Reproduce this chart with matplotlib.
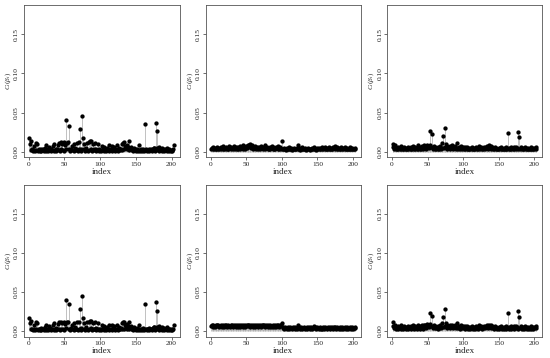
import matplotlib
matplotlib.use("Agg")
import matplotlib.pyplot as plt
import numpy as np

plt.rcParams['font.family'] = ['Liberation Serif', 'DejaVu Serif']
plt.rcParams['mathtext.fontset'] = 'custom'
plt.rcParams['mathtext.rm'] = 'Liberation Serif'
plt.rcParams['mathtext.it'] = 'Liberation Serif:italic'

# Cook's-type distances, index 1..203, one list per panel
c1 = [
 .017, .010, .002, .013, .003, .001, .007, .002, .001, .011,
 .002, .010, .001, .003, .002, .001, .004, .001, .002, .003,
 .001, .002, .005, .001, .008, .003, .001, .006, .002, .004,
 .001, .003, .002, .007, .001, .010, .002, .001, .004, .003,
 .009, .002, .011, .001, .012, .003, .010, .002, .012, .001,
 .009, .004, .040, .011, .012, .033, .003, .001, .004, .002,
 .007, .002, .010, .001, .005, .003, .002, .011, .001, .003,
 .012, .029, .004, .001, .046, .017, .010, .003, .001, .005,
 .002, .011, .001, .012, .002, .013, .004, .013, .001, .010,
 .003, .002, .011, .001, .004, .002, .010, .001, .003, .002,
 .001, .007, .002, .004, .001, .006, .002, .001, .005, .003,
 .002, .008, .001, .003, .002, .007, .001, .004, .002, .006,
 .001, .003, .008, .002, .001, .005, .003, .002, .004, .010,
 .002, .011, .003, .012, .007, .005, .009, .003, .006, .002,
 .013, .004, .006, .002, .003, .001, .005, .002, .003, .001,
 .002, .004, .001, .008, .002, .001, .003, .002, .001, .004,
 .002, .001, .035, .003, .002, .001, .002, .004, .001, .002,
 .003, .001, .002, .004, .005, .005, .001, .037, .026, .005,
 .002, .006, .001, .003, .002, .001, .005, .002, .001, .004,
 .002, .003, .001, .005, .002, .001, .003, .002, .001, .002,
 .001, .003, .008]

c2 = [
 .004,.005,.003,.006,.004,.005,.003,.004,.006,.005,
 .004,.003,.005,.006,.004,.005,.007,.004,.003,.005,
 .006,.004,.005,.003,.004,.007,.005,.004,.006,.005,
 .003,.005,.007,.004,.006,.005,.004,.003,.006,.005,
 .004,.007,.005,.006,.004,.008,.005,.006,.004,.007,
 .005,.009,.006,.008,.010,.007,.005,.008,.006,.004,
 .006,.005,.007,.004,.006,.005,.003,.006,.005,.004,
 .007,.005,.004,.006,.005,.008,.004,.005,.006,.004,
 .005,.003,.006,.004,.005,.007,.004,.006,.003,.005,
 .004,.006,.005,.003,.007,.004,.005,.006,.004,.013,
 .003,.004,.005,.003,.004,.002,.005,.004,.003,.006,
 .004,.003,.005,.002,.004,.003,.005,.004,.003,.004,
 .005,.008,.003,.004,.002,.005,.003,.004,.006,.003,
 .004,.003,.005,.002,.004,.003,.005,.004,.002,.003,
 .004,.005,.003,.004,.006,.003,.004,.002,.005,.004,
 .003,.005,.004,.003,.005,.006,.004,.003,.005,.004,
 .006,.004,.003,.005,.004,.006,.003,.004,.005,.003,
 .004,.006,.005,.007,.004,.005,.003,.006,.004,.005,
 .003,.004,.006,.005,.004,.003,.005,.004,.006,.003,
 .004,.005,.003,.004,.006,.004,.003,.005,.004,.003,
 .004,.005,.003]

c3 = [
 .010,.006,.004,.008,.003,.005,.004,.006,.003,.005,
 .004,.007,.003,.005,.004,.003,.006,.004,.005,.003,
 .004,.006,.003,.005,.004,.003,.006,.004,.005,.007,
 .003,.004,.006,.005,.003,.008,.004,.005,.003,.006,
 .004,.007,.005,.003,.008,.005,.007,.004,.009,.006,
 .007,.005,.026,.009,.006,.022,.004,.005,.007,.004,
 .006,.004,.005,.003,.006,.004,.005,.007,.004,.005,
 .011,.020,.005,.006,.030,.010,.007,.004,.006,.005,
 .007,.004,.006,.005,.008,.004,.006,.005,.007,.004,
 .005,.011,.004,.006,.005,.003,.007,.004,.005,.006,
 .004,.006,.003,.005,.004,.006,.003,.005,.004,.003,
 .005,.004,.006,.003,.004,.005,.003,.006,.004,.005,
 .003,.005,.007,.004,.006,.003,.005,.004,.006,.005,
 .004,.006,.005,.007,.004,.008,.005,.006,.004,.007,
 .006,.004,.005,.003,.006,.004,.005,.003,.004,.005,
 .003,.005,.004,.006,.003,.004,.005,.003,.004,.006,
 .003,.004,.024,.005,.003,.004,.006,.003,.005,.004,
 .006,.003,.005,.004,.006,.005,.003,.025,.019,.004,
 .005,.006,.003,.004,.005,.003,.006,.004,.005,.003,
 .004,.005,.003,.004,.006,.003,.004,.005,.003,.004,
 .005,.004,.006]

c4 = [
 .016, .010, .002, .013, .003, .001, .008, .002, .001, .011,
 .002, .010, .001, .003, .002, .001, .004, .001, .002, .003,
 .001, .002, .005, .001, .008, .003, .001, .006, .002, .004,
 .001, .003, .002, .007, .001, .010, .002, .001, .004, .003,
 .009, .002, .011, .001, .012, .003, .010, .002, .012, .001,
 .009, .004, .039, .011, .012, .034, .003, .001, .004, .002,
 .007, .002, .010, .001, .005, .003, .002, .011, .001, .003,
 .012, .028, .004, .001, .045, .017, .010, .003, .001, .005,
 .002, .011, .001, .012, .002, .013, .004, .013, .001, .010,
 .003, .002, .011, .001, .004, .002, .010, .001, .003, .002,
 .001, .007, .002, .004, .001, .006, .002, .001, .005, .003,
 .002, .008, .001, .003, .002, .007, .001, .004, .002, .006,
 .001, .003, .008, .002, .001, .005, .003, .002, .004, .010,
 .002, .011, .003, .012, .007, .005, .009, .003, .006, .002,
 .012, .004, .006, .002, .003, .001, .005, .002, .003, .001,
 .002, .004, .001, .008, .002, .001, .003, .002, .001, .004,
 .002, .001, .035, .003, .002, .001, .002, .004, .001, .002,
 .003, .001, .002, .004, .005, .005, .001, .037, .026, .005,
 .002, .006, .001, .003, .002, .001, .005, .002, .001, .004,
 .002, .003, .001, .005, .002, .001, .003, .002, .001, .002,
 .001, .003, .008]

c5 = [
 .006,.007,.005,.007,.006,.005,.007,.006,.008,.006,
 .007,.005,.006,.007,.006,.005,.007,.006,.005,.007,
 .006,.007,.005,.006,.007,.006,.005,.008,.006,.007,
 .005,.006,.007,.006,.005,.007,.006,.005,.007,.006,
 .007,.005,.006,.007,.006,.005,.007,.006,.005,.007,
 .006,.007,.008,.006,.007,.005,.006,.007,.006,.005,
 .007,.006,.005,.007,.006,.007,.005,.006,.007,.006,
 .005,.007,.006,.007,.008,.006,.005,.007,.006,.005,
 .007,.006,.005,.007,.006,.005,.007,.006,.005,.007,
 .006,.005,.007,.006,.007,.005,.006,.007,.008,.010,
 .004,.005,.003,.004,.005,.004,.003,.005,.004,.003,
 .004,.005,.004,.003,.004,.005,.004,.003,.005,.004,
 .003,.007,.004,.005,.003,.004,.005,.004,.003,.004,
 .005,.004,.003,.004,.005,.003,.004,.005,.004,.003,
 .005,.004,.003,.004,.006,.004,.005,.003,.004,.005,
 .004,.003,.005,.004,.003,.002,.004,.005,.003,.004,
 .005,.004,.003,.004,.005,.004,.003,.005,.004,.005,
 .004,.003,.005,.004,.005,.003,.004,.005,.004,.003,
 .005,.004,.003,.004,.005,.003,.004,.005,.004,.003,
 .004,.005,.003,.004,.005,.004,.003,.005,.004,.003,
 .004,.005,.004]

c6 = [
 .011,.006,.004,.008,.003,.005,.004,.006,.003,.005,
 .004,.007,.003,.005,.004,.003,.006,.004,.005,.003,
 .004,.006,.003,.005,.004,.003,.006,.004,.005,.007,
 .003,.004,.006,.005,.003,.008,.004,.005,.003,.006,
 .004,.007,.005,.003,.008,.005,.007,.004,.009,.006,
 .007,.005,.023,.009,.006,.019,.004,.005,.007,.004,
 .006,.004,.005,.003,.006,.004,.005,.007,.004,.005,
 .010,.018,.005,.006,.028,.010,.007,.004,.006,.005,
 .007,.004,.006,.005,.008,.004,.006,.005,.007,.004,
 .005,.010,.004,.006,.005,.003,.007,.004,.005,.006,
 .004,.006,.003,.005,.004,.006,.003,.005,.004,.003,
 .005,.004,.006,.003,.004,.005,.003,.006,.004,.005,
 .003,.005,.007,.004,.006,.003,.005,.004,.006,.005,
 .004,.006,.005,.007,.004,.008,.005,.006,.004,.007,
 .006,.004,.005,.003,.006,.004,.005,.003,.004,.005,
 .003,.005,.004,.006,.003,.004,.005,.003,.004,.006,
 .003,.004,.023,.005,.003,.004,.006,.003,.005,.004,
 .006,.003,.005,.004,.006,.005,.003,.025,.018,.004,
 .005,.006,.003,.004,.005,.003,.006,.004,.005,.003,
 .004,.005,.003,.004,.006,.003,.004,.005,.003,.004,
 .005,.004,.006]

panels = [c1, c2, c3, c4, c5, c6]
xticks = [0, 50, 100, 150, 200]
yticks = [0.00, 0.05, 0.10, 0.15]
ytick_labels = ["0.00", "0.05", "0.10", "0.15"]
xlabel = "index"
ylabel = r"$C_i(\beta_i)$"

W, H = 550, 358
fig = plt.figure(figsize=(W / 100, H / 100), dpi=100)

cols = [(23.5, 179.5), (205.5, 361.0), (387.0, 542.0)]
rows = [(5.2, 157.3), (184.5, 336.6)]

for k, vals in enumerate(panels):
    r, c = divmod(k, 3)
    x0, x1 = cols[c]
    y0, y1 = rows[r]
    ax = fig.add_axes([x0 / W, 1 - y1 / H, (x1 - x0) / W, (y1 - y0) / H])
    idx = np.arange(1, len(vals) + 1)
    v = np.array(vals)
    ax.vlines(idx, 0, v, color='#a8a8a8', lw=0.5)
    ax.plot(idx, v, 'o', color='black', ms=3.1, mew=0)
    ax.set_xlim(-7.1, 211.1)
    ax.set_ylim(-0.0072, 0.1872)
    ax.set_xticks(xticks)
    ax.set_yticks(yticks)
    ax.set_yticklabels(ytick_labels, rotation=90, va='center')
    ax.tick_params(labelsize=5.3, length=2.2, width=0.5, color='#333333',
                   pad=1.0, labelcolor='#222222')
    for s in ax.spines.values():
        s.set_linewidth(0.6)
        s.set_color('#555555')
    ax.set_xlabel(xlabel, fontsize=6.5, labelpad=1, color='#222222')
    ax.set_ylabel(ylabel, fontsize=5.3, color='#222222')
    ax.yaxis.set_label_coords(-10.8 / (x1 - x0), 0.5)

fig.savefig("out.png", dpi=100)
